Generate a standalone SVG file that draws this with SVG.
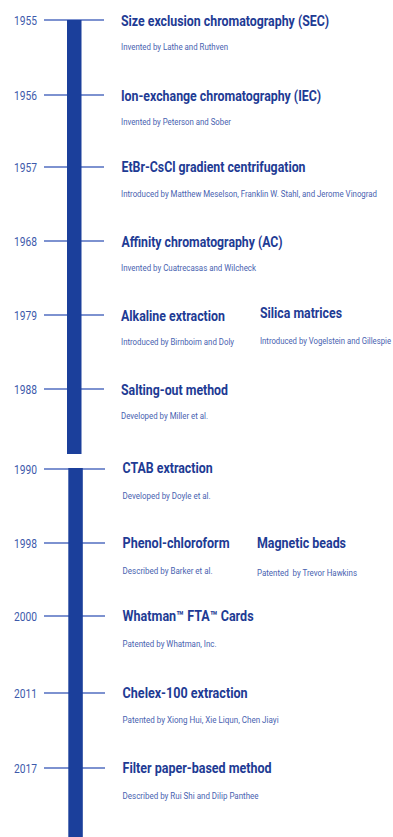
<svg xmlns="http://www.w3.org/2000/svg" width="393" height="837" viewBox="0 0 393 837">
<style>
.yr{font-family:Roboto,"Liberation Sans",sans-serif;font-size:12.5px;fill:#3d5aab}
.tt{font-family:Roboto,"Liberation Sans",sans-serif;font-size:14.5px;font-weight:bold;fill:#1e3b94}
.st{font-family:Roboto,"Liberation Sans",sans-serif;font-size:8.6px;fill:#4862b0}
.tick{stroke:#7d92d0;stroke-width:2}
.bar{fill:#1b3f9b}
</style>
<rect width="393" height="837" fill="#ffffff"/>
<g id="connectors">
<line class="tick" x1="44" y1="20" x2="104" y2="20"/>
<line class="tick" x1="44" y1="95" x2="104" y2="95"/>
<line class="tick" x1="44" y1="167" x2="104" y2="167"/>
<line class="tick" x1="44" y1="241" x2="104" y2="241"/>
<line class="tick" x1="44" y1="315" x2="104" y2="315"/>
<line class="tick" x1="44" y1="389" x2="104" y2="389"/>
<line class="tick" x1="44" y1="469" x2="105" y2="469"/>
<line class="tick" x1="44" y1="543" x2="105" y2="543"/>
<line class="tick" x1="44" y1="616" x2="105" y2="616"/>
<line class="tick" x1="44" y1="693" x2="105" y2="693"/>
<line class="tick" x1="44" y1="768" x2="105" y2="768"/>
<rect id="spine1" class="bar" x="67" y="20" width="14.5" height="434"/>
<rect id="spine2" class="bar" x="68.3" y="468" width="14.5" height="369"/>
</g>
<g id="n1955">
<text class="yr" x="14" y="25" textLength="23" lengthAdjust="spacingAndGlyphs">1955</text>
<text class="tt" x="121" y="26" textLength="208" lengthAdjust="spacingAndGlyphs">Size exclusion chromatography (SEC)</text>
<text class="st" x="121" y="50" textLength="107" lengthAdjust="spacingAndGlyphs">Invented by Lathe and Ruthven</text>
</g>
<g id="n1956">
<text class="yr" x="14" y="100" textLength="23" lengthAdjust="spacingAndGlyphs">1956</text>
<text class="tt" x="121" y="101" textLength="200" lengthAdjust="spacingAndGlyphs">Ion-exchange chromatography (IEC)</text>
<text class="st" x="121" y="125" textLength="110" lengthAdjust="spacingAndGlyphs">Invented by Peterson and Sober</text>
</g>
<g id="n1957">
<text class="yr" x="14" y="172" textLength="23" lengthAdjust="spacingAndGlyphs">1957</text>
<text class="tt" x="121.5" y="172" textLength="184" lengthAdjust="spacingAndGlyphs">EtBr-CsCl gradient centrifugation</text>
<text class="st" x="121" y="197" textLength="256" lengthAdjust="spacingAndGlyphs">Introduced by Matthew Meselson, Franklin W. Stahl, and Jerome Vinograd</text>
</g>
<g id="n1968">
<text class="yr" x="14" y="246" textLength="23" lengthAdjust="spacingAndGlyphs">1968</text>
<text class="tt" x="121.5" y="247" textLength="161" lengthAdjust="spacingAndGlyphs">Affinity chromatography (AC)</text>
<text class="st" x="121" y="271" textLength="135" lengthAdjust="spacingAndGlyphs">Invented by Cuatrecasas and Wilcheck</text>
</g>
<g id="n1979">
<text class="yr" x="14" y="320" textLength="23" lengthAdjust="spacingAndGlyphs">1979</text>
<text class="tt" x="121" y="321" textLength="104" lengthAdjust="spacingAndGlyphs">Alkaline extraction</text>
<text class="st" x="121" y="345" textLength="113" lengthAdjust="spacingAndGlyphs">Introduced by Birnboim and Doly</text>
</g>
<g id="n1979b">
<text class="tt" x="260" y="318" textLength="82" lengthAdjust="spacingAndGlyphs">Silica matrices</text>
<text class="st" x="260" y="344" textLength="131" lengthAdjust="spacingAndGlyphs">Introduced by Vogelstein and Gillespie</text>
</g>
<g id="n1988">
<text class="yr" x="14" y="394" textLength="23" lengthAdjust="spacingAndGlyphs">1988</text>
<text class="tt" x="121" y="395" textLength="107" lengthAdjust="spacingAndGlyphs">Salting-out method</text>
<text class="st" x="121" y="419" textLength="87" lengthAdjust="spacingAndGlyphs">Developed by Miller et al.</text>
</g>
<g id="n1990">
<text class="yr" x="14" y="474" textLength="23" lengthAdjust="spacingAndGlyphs">1990</text>
<text class="tt" x="122.6" y="473" textLength="90" lengthAdjust="spacingAndGlyphs">CTAB extraction</text>
<text class="st" x="122.6" y="499" textLength="88" lengthAdjust="spacingAndGlyphs">Developed by Doyle et al.</text>
</g>
<g id="n1998">
<text class="yr" x="14" y="548" textLength="23" lengthAdjust="spacingAndGlyphs">1998</text>
<text class="tt" x="122.6" y="548" textLength="107" lengthAdjust="spacingAndGlyphs">Phenol-chloroform</text>
<text class="st" x="122.6" y="574" textLength="90" lengthAdjust="spacingAndGlyphs">Described by Barker et al.</text>
</g>
<g id="n1998b">
<text class="tt" x="257" y="548" textLength="89" lengthAdjust="spacingAndGlyphs">Magnetic beads</text>
<text class="st" x="257" y="576" textLength="100" lengthAdjust="spacingAndGlyphs" xml:space="preserve">Patented  by Trevor Hawkins</text>
</g>
<g id="n2000">
<text class="yr" x="14" y="621" textLength="23" lengthAdjust="spacingAndGlyphs">2000</text>
<text class="tt" x="122.6" y="621" textLength="131" lengthAdjust="spacingAndGlyphs">Whatman™ FTA™ Cards</text>
<text class="st" x="122.6" y="647" textLength="94" lengthAdjust="spacingAndGlyphs">Patented by Whatman, Inc.</text>
</g>
<g id="n2011">
<text class="yr" x="14" y="698" textLength="23" lengthAdjust="spacingAndGlyphs">2011</text>
<text class="tt" x="122.6" y="698" textLength="125" lengthAdjust="spacingAndGlyphs">Chelex-100 extraction</text>
<text class="st" x="122.6" y="723" textLength="156" lengthAdjust="spacingAndGlyphs">Patented by Xiong Hui, Xie Liqun, Chen Jiayi</text>
</g>
<g id="n2017">
<text class="yr" x="14" y="773" textLength="23" lengthAdjust="spacingAndGlyphs">2017</text>
<text class="tt" x="122.6" y="773" textLength="149" lengthAdjust="spacingAndGlyphs">Filter paper-based method</text>
<text class="st" x="122.6" y="799" textLength="136" lengthAdjust="spacingAndGlyphs">Described by Rui Shi and Dilip Panthee</text>
</g>
</svg>
